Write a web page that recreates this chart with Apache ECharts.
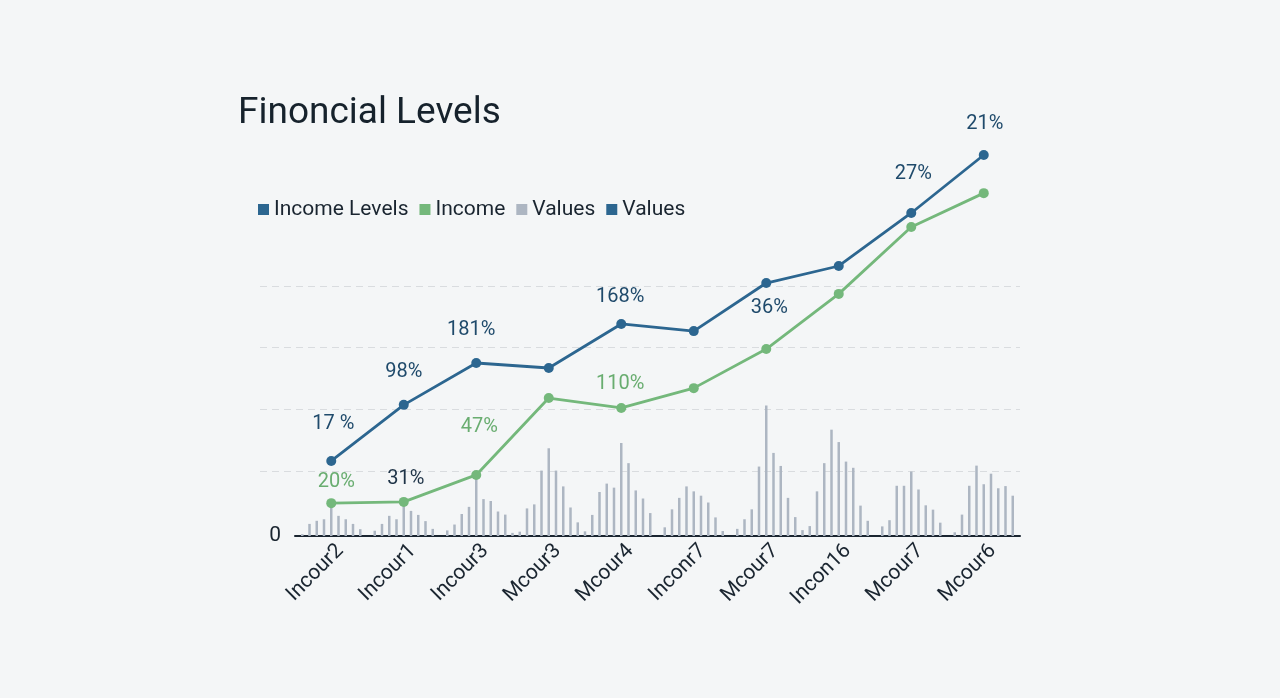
<!DOCTYPE html>
<html style="height: 100%">
<head>
    <meta charset="utf-8">
    <title>Finoncial Levels</title>
</head>
<body style="height: 100%; margin: 0">
<div id="container" style="height: 100%"></div>
<script src="https://cdn.jsdelivr.net/npm/echarts@6/dist/echarts.min.js"></script>
<script type="text/javascript">
    var categories = ['Incour2', 'Incour1', 'Incour3', 'Mcour3', 'Mcour4', 'Inconr7', 'Mcour7', 'Incon16', 'Mcour7', 'Mcour6'];
    var incomeLevels = [24.2, 42.3, 55.8, 54.2, 68.4, 66.1, 81.6, 87.1, 104.2, 122.9];
    var income = [10.6, 11.0, 19.7, 44.5, 41.3, 47.7, 60.3, 78.1, 99.7, 110.6];
    var incomeLevelsLabels = ['17 %', '98%', '181%', '', '168%', '', '36%', '', '27%', '21%'];
    var incomeLabels = ['20%', '31%', '47%', '', '110%', '', '', '', '', ''];
    // ten thin bars per category
    var valueGroups = [
        [0.6, 3.9, 4.9, 5.4, 9.7, 6.5, 5.4, 3.9, 2.2, 0],
        [1.7, 3.9, 6.5, 5.4, 10.6, 8.1, 6.8, 4.8, 2.3, 0],
        [1.8, 3.7, 7.1, 9.4, 19.7, 11.9, 11.3, 7.9, 6.9, 1.0],
        [1.4, 8.9, 10.2, 21.1, 28.3, 21.1, 16.0, 9.2, 4.4, 1.5],
        [6.8, 14.2, 16.9, 15.6, 30.0, 23.5, 14.7, 12.1, 7.4, 0],
        [2.8, 8.6, 12.3, 16.0, 14.4, 13.0, 10.8, 6.0, 1.6, 0],
        [2.3, 5.4, 8.6, 22.4, 42.1, 26.8, 22.6, 12.3, 6.1, 1.9],
        [3.2, 14.4, 23.5, 34.3, 30.3, 24.0, 22.0, 9.8, 4.9, 0],
        [3.1, 5.1, 16.2, 16.2, 20.8, 15.0, 9.9, 8.5, 4.3, 0],
        [1.2, 6.9, 16.2, 22.7, 16.7, 20.1, 15.4, 16.1, 13.0, 0]
    ];

    // label placement (style only)
    var blueOffsets = [[2, -17], [0, -13], [-5, -13], [0, 0], [-1, -7], [0, 0], [3, 45], [0, 0], [2, -19], [1, -11]];
    var greenOffsets = [[5, -1], [2, -3], [3, -28], [0, 0], [-1, -4], [0, 0], [0, 0], [0, 0], [0, 0], [0, 0]];
    var blueText = '#1f4a6b', greenText = '#69ad70';

    var blueData = incomeLevels.map(function (v, i) {
        return {
            value: v,
            label: {
                show: incomeLevelsLabels[i] !== '',
                formatter: incomeLevelsLabels[i],
                offset: blueOffsets[i]
            }
        };
    });
    var greenData = income.map(function (v, i) {
        return {
            value: v,
            label: {
                show: incomeLabels[i] !== '',
                formatter: incomeLabels[i],
                offset: greenOffsets[i],
                color: i === 1 ? '#1e3347' : greenText
            }
        };
    });
    var barData = [];
    valueGroups.forEach(function (g, c) {
        g.forEach(function (v, k) {
            if (v > 0) barData.push([c * 10 + k + 1, v]);
        });
    });

    var myChart = echarts.init(document.getElementById('container'));
    var option = {
        backgroundColor: '#f4f6f7',
        textStyle: {fontFamily: 'Roboto'},
        title: {
            text: 'Finoncial Levels',
            left: 233,
            top: 90,
            textStyle: {fontSize: 37, fontWeight: 'normal', color: '#16222c', fontFamily: 'Roboto'}
        },
        legend: {
            left: 253,
            top: 194,
            icon: 'rect',
            itemWidth: 11,
            itemHeight: 11,
            itemGap: 11,
            textStyle: {fontSize: 21, color: '#1a2530'},
            data: ['Income Levels', 'Income', 'Values', 'Values2'],
            formatter: function (name) {
                return name === 'Values2' ? 'Values' : name;
            }
        },
        grid: [
            {left: 295, right: 260, top: 133, bottom: 162},
            {left: 260, right: 260, top: 286, height: 185}
        ],
        xAxis: [
            {
                type: 'category',
                data: categories,
                gridIndex: 0,
                axisLine: {lineStyle: {color: '#1a2530', width: 2}},
                axisTick: {length: 6, lineStyle: {color: '#1a2530', width: 1.5}},
                axisLabel: {rotate: 45, fontSize: 21, color: '#1a2530', margin: 21, interval: 0, padding: [0, -13, 0, 0]}
            },
            {type: 'value', gridIndex: 0, min: 0, max: 100, show: false},
            {type: 'value', gridIndex: 1, min: 0, max: 1, show: false}
        ],
        yAxis: [
            {
                type: 'value',
                gridIndex: 0,
                min: 0,
                max: 130,
                interval: 10,
                axisLine: {show: false},
                axisTick: {show: false},
                splitLine: {show: false},
                axisLabel: {
                    fontSize: 21,
                    color: '#1a2530',
                    margin: 14,
                    formatter: function (v) { return v === 0 ? '0' : ''; }
                }
            },
            {
                type: 'value',
                gridIndex: 1,
                min: 0,
                max: 3,
                interval: 1,
                axisLine: {show: false},
                axisTick: {show: false},
                axisLabel: {show: false},
                splitLine: {lineStyle: {type: [7, 5], color: '#d9dcdf', width: 1.2}}
            }
        ],
        series: [
            {
                name: 'Income Levels',
                type: 'line',
                data: blueData,
                symbol: 'circle',
                symbolSize: 10,
                z: 4,
                lineStyle: {color: '#2c6690', width: 2.8},
                itemStyle: {color: '#2c6690'},
                label: {position: 'top', fontSize: 20, color: blueText}
            },
            {
                name: 'Income',
                type: 'line',
                data: greenData,
                symbol: 'circle',
                symbolSize: 10,
                z: 3,
                lineStyle: {color: '#74b87b', width: 2.8},
                itemStyle: {color: '#74b87b'},
                label: {position: 'top', fontSize: 20}
            },
            {
                name: 'Values',
                type: 'bar',
                xAxisIndex: 1,
                data: barData,
                barWidth: 2.5,
                z: 1,
                itemStyle: {color: '#adb6c2'}
            },
            {
                name: 'Values2',
                type: 'line',
                data: [],
                itemStyle: {color: '#2c6690'}
            }
        ]
    };
    myChart.setOption(option);
</script>
</body>
</html>
